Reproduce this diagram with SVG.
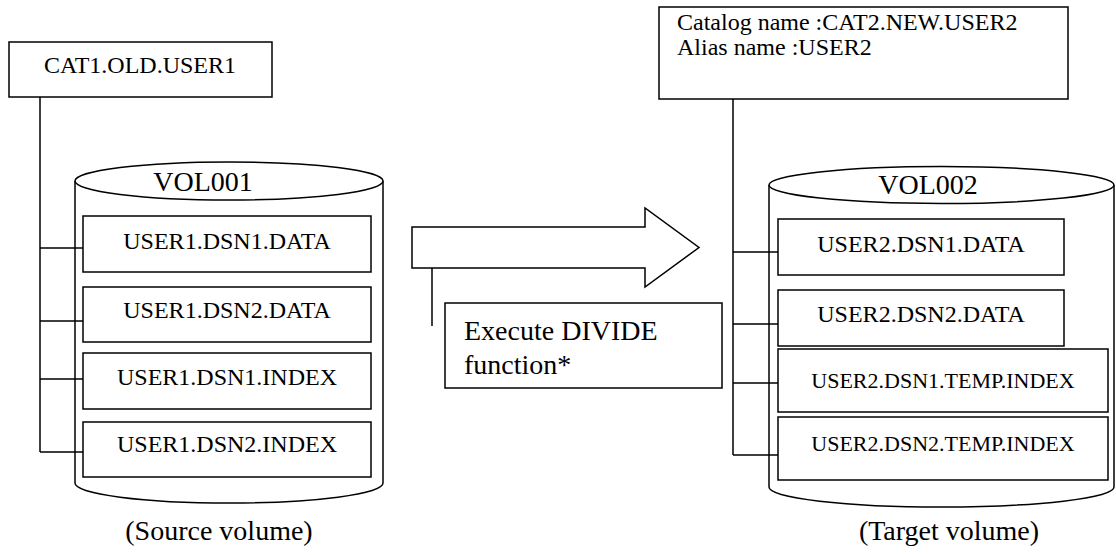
<svg xmlns="http://www.w3.org/2000/svg" width="1116" height="555" viewBox="0 0 1116 555">
  <style>
    .shape { fill: #ffffff; stroke: #000000; stroke-width: 1.5; }
    .wire { fill: none; stroke: #000000; stroke-width: 1.5; }
    .lbl { font-family: "Liberation Serif", "Times New Roman", serif; fill: #000000; }
    .ds { font-size: 24px; text-anchor: middle; }
    .tmp { font-size: 22px; text-anchor: middle; }
    .vol { font-size: 28px; text-anchor: middle; }
    .cap { font-size: 28px; text-anchor: middle; }
  </style>
  <rect width="1116" height="555" fill="#ffffff"/>

  <!-- volume cylinders (drawn first so the trees sit on top) -->
  <g id="vol001">
    <path class="shape" d="M75,181 V483 A154,20 0 0 0 383,483 V181"/>
    <ellipse class="shape" cx="229" cy="181" rx="154" ry="19"/>
    <text class="lbl vol" x="203" y="191">VOL001</text>
  </g>
  <g id="vol002">
    <path class="shape" d="M769,185 V487 A172.5,20 0 0 0 1114,487 V185"/>
    <ellipse class="shape" cx="941.5" cy="185" rx="172.5" ry="18.5"/>
    <text class="lbl vol" x="928" y="194">VOL002</text>
  </g>

  <!-- catalog-to-dataset connectors -->
  <g id="connectors">
    <path class="wire" d="M40,97 V452 M40,248 H83 M40,321 H83 M40,379 H83 M40,452 H83"/>
    <path class="wire" d="M733,99 V455 M733,252 H778 M733,324 H778 M733,383 H778 M733,455 H778"/>
    <path class="wire" d="M432,243 V326"/>
  </g>

  <g id="cat1">
    <rect class="shape" x="9" y="42" width="263" height="55"/>
    <text class="lbl ds" x="140" y="73">CAT1.OLD.USER1</text>
  </g>
  <g id="cat2">
    <rect class="shape" x="659" y="7" width="409" height="92"/>
    <text class="lbl" font-size="24" x="677" y="30">Catalog name :CAT2.NEW.USER2</text>
    <text class="lbl" font-size="24" x="677" y="55">Alias name :USER2</text>
  </g>

  <!-- source datasets -->
  <g id="src-dsn1-data">
    <rect class="shape" x="83" y="216" width="288" height="56"/>
    <text class="lbl ds" x="227" y="249">USER1.DSN1.DATA</text>
  </g>
  <g id="src-dsn2-data">
    <rect class="shape" x="83" y="287" width="288" height="55"/>
    <text class="lbl ds" x="227" y="318">USER1.DSN2.DATA</text>
  </g>
  <g id="src-dsn1-index">
    <rect class="shape" x="83" y="353" width="288" height="56"/>
    <text class="lbl ds" x="227" y="385">USER1.DSN1.INDEX</text>
  </g>
  <g id="src-dsn2-index">
    <rect class="shape" x="83" y="422" width="288" height="55"/>
    <text class="lbl ds" x="227" y="452">USER1.DSN2.INDEX</text>
  </g>

  <!-- target datasets -->
  <g id="tgt-dsn1-data">
    <rect class="shape" x="778" y="219" width="286" height="56"/>
    <text class="lbl ds" x="921" y="252">USER2.DSN1.DATA</text>
  </g>
  <g id="tgt-dsn2-data">
    <rect class="shape" x="778" y="290" width="286" height="56"/>
    <text class="lbl ds" x="921" y="322">USER2.DSN2.DATA</text>
  </g>
  <g id="tgt-dsn1-temp-index">
    <rect class="shape" x="778" y="349" width="330" height="63"/>
    <text class="lbl tmp" x="943" y="388">USER2.DSN1.TEMP.INDEX</text>
  </g>
  <g id="tgt-dsn2-temp-index">
    <rect class="shape" x="778" y="417" width="330" height="63"/>
    <text class="lbl tmp" x="943" y="451">USER2.DSN2.TEMP.INDEX</text>
  </g>

  <!-- block arrow and its note -->
  <g id="divide-arrow">
    <path class="shape" d="M412,227 H645 V208 L699,247.5 L645,287 V268 H412 Z"/>
  </g>
  <g id="divide-note">
    <rect class="shape" x="445" y="303" width="277" height="85"/>
    <text class="lbl" font-size="28" x="464" y="340">Execute DIVIDE</text>
    <text class="lbl" font-size="28" x="464" y="374">function*</text>
  </g>

  <g id="captions">
    <text class="lbl cap" x="219" y="540">(Source volume)</text>
    <text class="lbl cap" x="949" y="540">(Target volume)</text>
  </g>
</svg>
